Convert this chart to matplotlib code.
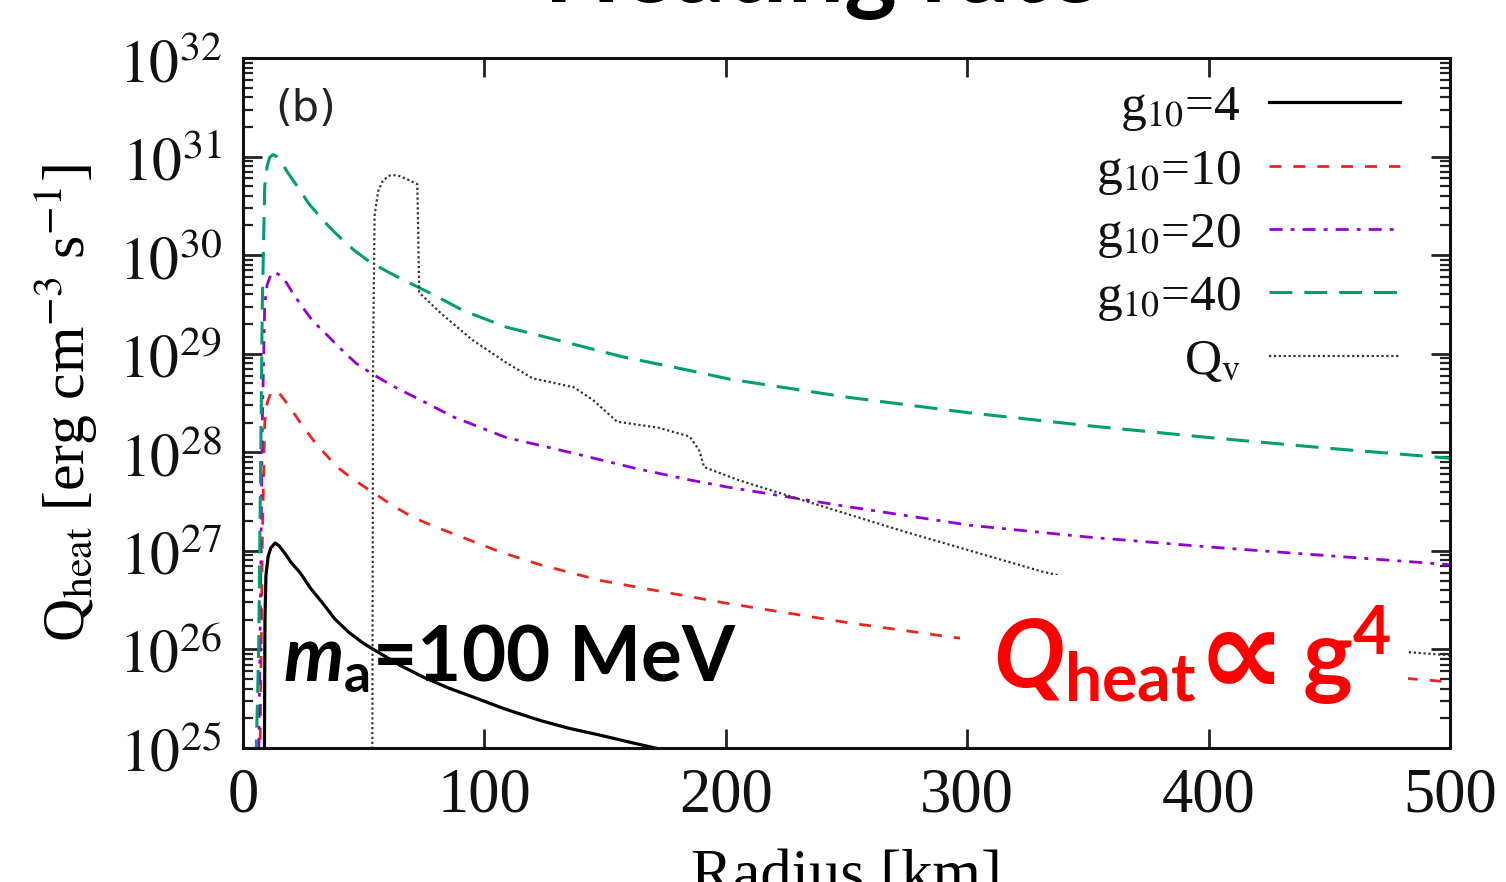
import numpy as np
import matplotlib
matplotlib.use("Agg")
import matplotlib.pyplot as plt
from matplotlib.patches import Rectangle
from matplotlib.ticker import LogLocator, NullFormatter, FixedLocator
from matplotlib.font_manager import FontProperties

plt.rcParams['mathtext.fontset'] = 'stix'
plt.rcParams['mathtext.bf'] = 'Lato:bold'
plt.rcParams['mathtext.it'] = 'Lato:italic:bold'
plt.rcParams['mathtext.rm'] = 'Lato:bold'

# ---------------- data (radius in km, log10 of Q in erg cm^-3 s^-1) ----------------
r_g40 = [5, 6.5, 8, 9, 10, 11, 12.4, 14, 16.2, 19, 23.6, 27, 31.9, 36, 41.4, 46, 52.6, 60, 68, 80.4, 91,
         109, 130, 157, 185, 202, 250, 301, 350, 400, 450, 500]
lq_g40 = [24.5, 26.0, 29.5, 30.7, 30.9, 30.99, 31.02, 31.0, 30.93, 30.82, 30.66, 30.53, 30.39, 30.28, 30.15,
          30.05, 29.93, 29.83, 29.73, 29.58, 29.44, 29.27, 29.14, 28.97, 28.83, 28.74, 28.56, 28.40, 28.27,
          28.15, 28.04, 27.94]

r_g20 = [5, 6.5, 8, 9, 10, 11.5, 13, 15, 18, 21, 25, 29, 34, 38, 43, 47, 52.6, 58, 63.8, 76, 87, 109, 137,
         162, 185, 200, 250, 301, 350, 400, 450, 500]
lq_g20 = [23.3, 24.8, 28.3, 29.5, 29.7, 29.8, 29.83, 29.8, 29.72, 29.6, 29.46, 29.33, 29.21, 29.11, 28.99,
          28.9, 28.81, 28.73, 28.65, 28.50, 28.36, 28.15, 27.99, 27.84, 27.72, 27.65, 27.45, 27.26, 27.14,
          27.04, 26.95, 26.86]

r_g10 = [5, 6.5, 8, 9, 10, 11.5, 13, 15, 17.5, 20.7, 23.5, 26.5, 29.5, 32.7, 39, 46, 54, 62, 70.4, 80, 88.6,
         98, 106.5, 123, 148, 175, 200, 251, 295, 350, 400, 450, 500]
lq_g10 = [22.1, 23.6, 27.1, 28.3, 28.5, 28.6, 28.63, 28.6, 28.52, 28.41, 28.31, 28.21, 28.11, 28.02, 27.85,
          27.72, 27.59, 27.46, 27.34, 27.24, 27.16, 27.07, 26.99, 26.86, 26.70, 26.58, 26.47, 26.27, 26.12,
          25.98, 25.87, 25.77, 25.67]

r_g4 = [8.8, 9.1, 9.5, 10.4, 11.5, 13.3, 15, 17.5, 20, 23.6, 28, 33, 38, 44, 50, 56.8, 65, 74.6, 85, 95,
        108, 123, 135, 148, 160, 170.7, 185]
lq_g4 = [24.5, 26.3, 26.75, 26.94, 27.03, 27.08, 27.05, 26.97, 26.88, 26.78, 26.62, 26.47, 26.31, 26.17,
         26.06, 25.96, 25.84, 25.72, 25.61, 25.52, 25.40, 25.28, 25.20, 25.13, 25.06, 25.0, 24.92]

r_qnu = [53.5, 53.9, 54.5, 56, 58, 61, 64, 68, 72.2, 72.6, 73, 82, 95, 109, 120, 137, 145, 155, 172, 185,
         189, 191, 205, 231, 272, 300, 331, 400, 470, 484, 500]
lq_qnu = [24.0, 29.0, 30.4, 30.65, 30.76, 30.81, 30.81, 30.77, 30.72, 30.2, 29.62, 29.41, 29.14, 28.91,
          28.75, 28.66, 28.53, 28.31, 28.25, 28.16, 28.02, 27.85, 27.72, 27.52, 27.21, 27.01, 26.79, 26.40,
          26.02, 25.97, 25.94]

xticks = [0, 100, 200, 300, 400, 500]
yticks_exp = [25, 26, 27, 28, 29, 30, 31, 32]
legend_labels = ['g$_{10}$=4', 'g$_{10}$=10', 'g$_{10}$=20', 'g$_{10}$=40', 'Q$_{\\mathrm{v}}$']

# ---------------- figure ----------------
fig = plt.figure(figsize=(15.06, 8.82), dpi=100)
ax = fig.add_axes([243/1506, 1 - 748/882, (1450-243)/1506, 690/882])

def q(v):
    return 10.0 ** np.asarray(v)

h1, = ax.plot(r_g4, q(lq_g4), color='black', lw=2.3, zorder=2)
h2, = ax.plot(r_g10, q(lq_g10), color='#e8281e', lw=2.0, dashes=(4.3, 4.3), zorder=2)
h3, = ax.plot(r_g20, q(lq_g20), color='#9400d3', lw=2.0, dashes=(4.7, 2.9, 1.4, 2.9), zorder=2)
h4, = ax.plot(r_g40, q(lq_g40), color='#009e73', lw=2.2, dashes=(7.5, 3.9), zorder=2)
h5, = ax.plot(r_qnu, q(lq_qnu), color='#333333', lw=1.6, dashes=(1, 1.2), zorder=2)

ax.set_xlim(0, 500)
ax.set_yscale('log')
ax.set_ylim(1e25, 1e32)

serif = 'Liberation Serif'
ax.xaxis.set_major_locator(FixedLocator(xticks))
ax.set_xticklabels([str(t) for t in xticks], fontfamily=serif, fontsize=45)
ax.yaxis.set_major_locator(FixedLocator([10.0**e for e in yticks_exp]))
ax.set_yticklabels(['$10^{%d}$' % e for e in yticks_exp], fontsize=43)
ax.yaxis.set_minor_locator(LogLocator(base=10, subs=np.arange(2, 10), numticks=20))
ax.yaxis.set_minor_formatter(NullFormatter())

ax.tick_params(which='both', direction='in', top=True, right=True, color='#222222')
ax.tick_params(which='major', length=14, width=2)
ax.tick_params(which='minor', length=7, width=1.6)
ax.tick_params(axis='y', which='major', pad=15, labelcolor='#111111')
ax.tick_params(axis='x', which='major', pad=14, labelcolor='#111111')

for s in ax.spines.values():
    s.set_linewidth(2.2)
    s.set_color('#111111')

ax.set_ylabel('Q$_{\\mathrm{heat}}$ [erg cm$^{\\mathrm{-3}}$ s$^{\\mathrm{-1}}$]',
              fontfamily=serif, fontsize=43, labelpad=14)
ax.set_xlabel('Radius [km]', fontfamily=serif, fontsize=45, labelpad=17)

# panel label
ax.text(0.027, 0.957, '(b)', transform=ax.transAxes, fontfamily='DejaVu Sans',
        fontsize=31, ha='left', va='top', color='#222222')

# legend
lp = FontProperties(family=serif, size=37, math_fontfamily='stix')
leg = ax.legend([h1, h2, h3, h4, h5], legend_labels, loc='upper right',
                bbox_to_anchor=(0.9586, 0.962), markerfirst=False, frameon=False,
                prop=lp, handlelength=2.55, handletextpad=0.55, labelspacing=0.28,
                borderpad=0, borderaxespad=0)
for t in leg.get_texts():
    t.set_color('#111111')

# white box behind the red annotation
ax.add_patch(Rectangle((0.594, 0.033), 0.371, 0.218, transform=ax.transAxes,
                       facecolor='white', edgecolor='none', zorder=3))

ax.text(0.033, 0.0986, '$\\mathit{m}_{\\mathbf{a}}$=100 MeV', transform=ax.transAxes,
        fontfamily='Lato', fontweight='bold', fontsize=55, math_fontfamily='custom',
        ha='left', va='baseline', color='black', zorder=4)

ax.text(0.621, 0.088, '$\\mathit{Q}_{\\mathbf{heat}}$', transform=ax.transAxes,
        fontfamily='Lato', fontweight='bold', fontsize=68, math_fontfamily='custom',
        ha='left', va='baseline', color='#ff0000', zorder=4)
ax.text(0.790, 0.0775, '\u221d', transform=ax.transAxes,
        fontfamily=['DejaVu Sans'], fontweight='bold', fontsize=90,
        ha='left', va='baseline', color='#ff0000', zorder=4)
ax.text(0.877, 0.088, 'g$^{\\mathbf{4}}$', transform=ax.transAxes,
        fontfamily='Lato', fontweight='bold', fontsize=68, math_fontfamily='custom',
        ha='left', va='baseline', color='#ff0000', zorder=4)

# title (cut at the top of the picture)
fig.text(0.546, 1 - 2/882, 'Heating rate', ha='center', va='baseline',
         fontfamily='Lato', fontweight='bold', fontsize=72, color='black')

fig.savefig('out.png', dpi=100)
